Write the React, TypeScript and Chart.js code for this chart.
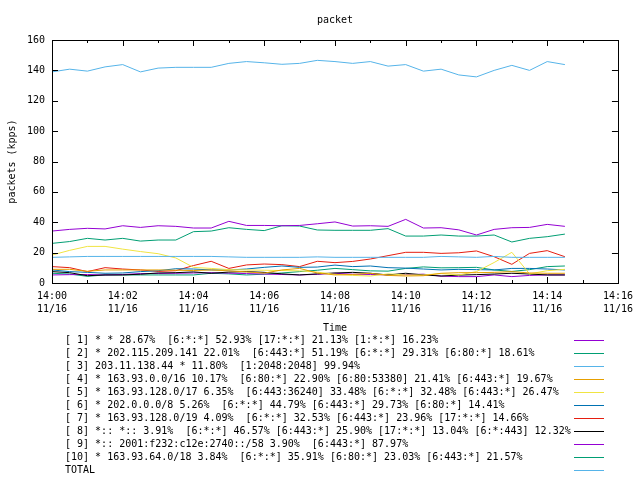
import React, { useEffect, useRef } from "react";
import { Chart, registerables } from "chart.js";

Chart.register(...registerables);

const minutes = [0, 0.5, 1, 1.5, 2, 2.5, 3, 3.5, 4, 4.5, 5, 5.5, 6, 6.5, 7, 7.5, 8, 8.5, 9, 9.5, 10, 10.5, 11, 11.5, 12, 12.5, 13, 13.5, 14, 14.5];

const xTickTimes = ["14:00", "14:02", "14:04", "14:06", "14:08", "14:10", "14:12", "14:14", "14:16"];
const xTickDate = "11/16";

const s1 = [34.2, 35.3, 36.0, 35.6, 37.7, 36.6, 37.7, 37.3, 36.2, 36.2, 40.6, 37.9, 37.9, 37.7, 37.9, 39.0, 40.2, 37.5, 37.7, 37.3, 41.9, 36.2, 36.4, 35.0, 31.6, 35.3, 36.4, 36.6, 38.6, 37.3];
const s2 = [26.1, 27.3, 29.4, 28.3, 29.4, 27.6, 28.3, 28.3, 33.8, 34.2, 36.4, 35.3, 34.5, 37.7, 37.5, 34.9, 34.7, 34.7, 34.7, 35.8, 30.9, 30.9, 31.6, 30.9, 30.9, 31.6, 27.0, 29.4, 30.5, 32.2];
const s3 = [16.9, 17.2, 17.5, 17.5, 17.5, 17.5, 17.5, 17.5, 17.5, 17.5, 17.2, 16.9, 16.9, 16.9, 16.9, 17.2, 16.9, 16.9, 16.9, 16.9, 16.9, 16.9, 17.5, 17.2, 16.9, 17.5, 16.9, 16.9, 16.9, 16.9];
const s4 = [9.0, 9.0, 7.7, 8.6, 8.6, 8.6, 8.6, 8.4, 8.2, 8.6, 8.0, 7.3, 6.5, 8.6, 9.6, 6.6, 5.3, 5.6, 6.4, 5.0, 4.6, 4.8, 6.4, 6.8, 6.8, 7.0, 7.5, 6.6, 6.4, 6.4];
const s5 = [18.4, 21.5, 24.1, 24.1, 22.3, 20.7, 19.3, 16.5, 10.3, 9.6, 8.8, 8.6, 8.4, 8.2, 8.0, 7.2, 5.7, 5.0, 4.6, 6.0, 5.3, 5.3, 6.2, 5.3, 7.5, 13.5, 20.2, 6.0, 8.1, 9.0];
const s6 = [8.6, 7.5, 7.0, 6.4, 6.6, 7.5, 8.1, 9.4, 9.2, 8.6, 8.6, 9.2, 10.3, 11.2, 10.3, 10.5, 11.8, 10.8, 11.2, 10.1, 9.8, 9.2, 8.6, 9.0, 8.8, 8.6, 9.6, 9.6, 9.2, 8.6];
const s7 = [10.8, 10.1, 7.5, 10.1, 9.2, 8.6, 7.6, 8.1, 11.5, 14.3, 9.6, 11.9, 12.5, 12.1, 10.8, 14.3, 13.4, 14.2, 15.8, 18.0, 20.2, 20.2, 19.5, 19.9, 21.1, 17.3, 12.3, 19.5, 21.3, 17.3];
const s8 = [7.5, 6.8, 4.8, 5.3, 5.3, 5.8, 6.6, 6.8, 7.3, 6.4, 7.2, 7.5, 7.0, 6.0, 5.3, 6.0, 6.6, 7.0, 6.4, 5.3, 6.4, 5.3, 4.6, 5.2, 5.5, 5.9, 6.4, 5.9, 5.3, 5.3];
const s9 = [5.3, 5.5, 5.6, 5.3, 5.6, 6.2, 6.3, 6.4, 6.6, 6.8, 6.5, 6.2, 5.9, 5.6, 5.3, 5.7, 6.4, 5.8, 5.6, 5.3, 5.5, 5.8, 4.5, 4.2, 4.2, 5.3, 4.2, 5.0, 5.3, 5.3];
const s10 = [6.4, 5.9, 4.4, 5.3, 5.3, 5.3, 5.3, 5.3, 5.3, 6.4, 6.0, 5.3, 5.8, 6.6, 7.5, 8.4, 9.6, 8.8, 8.0, 7.8, 9.6, 10.6, 10.0, 10.1, 10.3, 8.6, 7.6, 8.8, 10.8, 11.2];
const total = [139.0, 140.8, 139.5, 142.3, 143.8, 139.0, 141.5, 142.0, 142.0, 142.0, 144.6, 145.8, 145.0, 144.0, 144.6, 146.6, 145.8, 144.6, 145.8, 142.8, 143.8, 139.5, 140.8, 137.0, 135.7, 140.0, 143.3, 140.0, 145.8, 143.8];

const seriesLabels = [
  "[ 1] * * 28.67%  [6:*:*] 52.93% [17:*:*] 21.13% [1:*:*] 16.23%",
  "[ 2] * 202.115.209.141 22.01%  [6:443:*] 51.19% [6:*:*] 29.31% [6:80:*] 18.61%",
  "[ 3] 203.11.138.44 * 11.80%  [1:2048:2048] 99.94%",
  "[ 4] * 163.93.0.0/16 10.17%  [6:80:*] 22.90% [6:80:53380] 21.41% [6:443:*] 19.67%",
  "[ 5] * 163.93.128.0/17 6.35%  [6:443:36240] 33.48% [6:*:*] 32.48% [6:443:*] 26.47%",
  "[ 6] * 202.0.0.0/8 5.26%  [6:*:*] 44.79% [6:443:*] 29.73% [6:80:*] 14.41%",
  "[ 7] * 163.93.128.0/19 4.09%  [6:*:*] 32.53% [6:443:*] 23.96% [17:*:*] 14.66%",
  "[ 8] *:: *:: 3.91%  [6:*:*] 46.57% [6:443:*] 25.90% [17:*:*] 13.04% [6:*:443] 12.32%",
  "[ 9] *:: 2001:f232:c12e:2740::/58 3.90%  [6:443:*] 87.97%",
  "[10] * 163.93.64.0/18 3.84%  [6:*:*] 35.91% [6:80:*] 23.03% [6:443:*] 21.57%",
  "TOTAL",
];

const seriesValues = [s1, s2, s3, s4, s5, s6, s7, s8, s9, s10, total];
const seriesColors = ["#9400d3", "#009e73", "#56b4e9", "#e69f00", "#f0e442", "#0072b2", "#e51e10", "#000000", "#9400d3", "#009e73", "#56b4e9"];

const chartTitle = "packet";
const yTitle = "packets (kpps)";
const xTitle = "Time";

const FONT = "DejaVu Sans Mono";

const decorPlugin = {
  id: "gnuplotDecor",
  afterDraw(chart: any) {
    const ctx = chart.ctx as CanvasRenderingContext2D;
    const area = chart.chartArea;
    const xs = chart.scales.x;
    const ys = chart.scales.y;
    ctx.save();
    ctx.strokeStyle = "#000";
    ctx.lineWidth = 1;
    // border
    ctx.strokeRect(Math.round(area.left) + 0.5, Math.round(area.top) + 0.5, Math.round(area.right - area.left), Math.round(area.bottom - area.top));
    // x ticks (inward, mirrored)
    ctx.beginPath();
    xs.ticks.forEach((t: any) => {
      const px = Math.round(xs.getPixelForValue(t.value)) + 0.5;
      const len = t.value % 2 === 0 ? 6 : 3;
      ctx.moveTo(px, area.bottom);
      ctx.lineTo(px, area.bottom - len);
      ctx.moveTo(px, area.top);
      ctx.lineTo(px, area.top + len);
    });
    ys.ticks.forEach((t: any) => {
      const py = Math.round(ys.getPixelForValue(t.value)) + 0.5;
      ctx.moveTo(area.left, py);
      ctx.lineTo(area.left + 6, py);
      ctx.moveTo(area.right, py);
      ctx.lineTo(area.right - 6, py);
    });
    ctx.stroke();

    ctx.fillStyle = "#000";
    ctx.font = `10px "${FONT}"`;
    ctx.textBaseline = "middle";
    ctx.textAlign = "center";
    ctx.fillText(chartTitle, (area.left + area.right) / 2, 20);
    ctx.fillText(xTitle, (area.left + area.right) / 2, 328);
    ctx.save();
    ctx.translate(12, (area.top + area.bottom) / 2);
    ctx.rotate(-Math.PI / 2);
    ctx.fillText(yTitle, 0, 0);
    ctx.restore();

    // legend
    ctx.textAlign = "left";
    chart.data.datasets.forEach((ds: any, i: number) => {
      const y = 340 + i * 13;
      ctx.fillStyle = "#000";
      ctx.fillText(ds.label, 65, y);
      ctx.strokeStyle = ds.borderColor;
      ctx.beginPath();
      ctx.moveTo(574, Math.round(y) + 0.5);
      ctx.lineTo(604, Math.round(y) + 0.5);
      ctx.stroke();
    });
    ctx.restore();
  },
};

export default function App() {
  const ref = useRef<HTMLCanvasElement>(null);
  useEffect(() => {
    if (!ref.current) return;
    const datasets = seriesValues.map((vals, i) => ({
      label: seriesLabels[i],
      data: vals.map((v, j) => ({ x: minutes[j], y: v })),
      borderColor: seriesColors[i],
      backgroundColor: seriesColors[i],
      borderWidth: 1,
      pointRadius: 0,
      tension: 0,
      fill: false,
    }));
    const chart = new Chart(ref.current, {
      type: "line",
      data: { datasets },
      options: {
        animation: false,
        responsive: false,
        devicePixelRatio: 1,
        layout: { padding: { top: 40, right: 18, left: 0, bottom: 0 } },
        plugins: { legend: { display: false }, title: { display: false }, tooltip: { enabled: false } },
        scales: {
          x: {
            type: "linear",
            min: 0,
            max: 16,
            grid: { display: false, drawTicks: false },
            border: { display: false },
            ticks: {
              stepSize: 1,
              autoSkip: false,
              maxRotation: 0,
              padding: 7,
              color: "#000",
              font: { family: FONT, size: 10, lineHeight: "13px" },
              callback: (v: any) => (Number(v) % 2 === 0 ? [xTickTimes[Number(v) / 2], xTickDate] : ""),
            },
            afterFit: (s: any) => {
              s.height = 197;
            },
          },
          y: {
            min: 0,
            max: 160,
            grid: { display: false, drawTicks: false },
            border: { display: false },
            ticks: { stepSize: 20, padding: 7, color: "#000", font: { family: FONT, size: 10 } },
            afterFit: (s: any) => {
              s.width = 52;
            },
          },
        },
      },
      plugins: [decorPlugin],
    });
    return () => chart.destroy();
  }, []);
  return (
    <div style={{ position: "fixed", left: 0, top: 0, width: 640, height: 480, background: "#fff" }}>
      <canvas ref={ref} width={640} height={480} />
    </div>
  );
}
